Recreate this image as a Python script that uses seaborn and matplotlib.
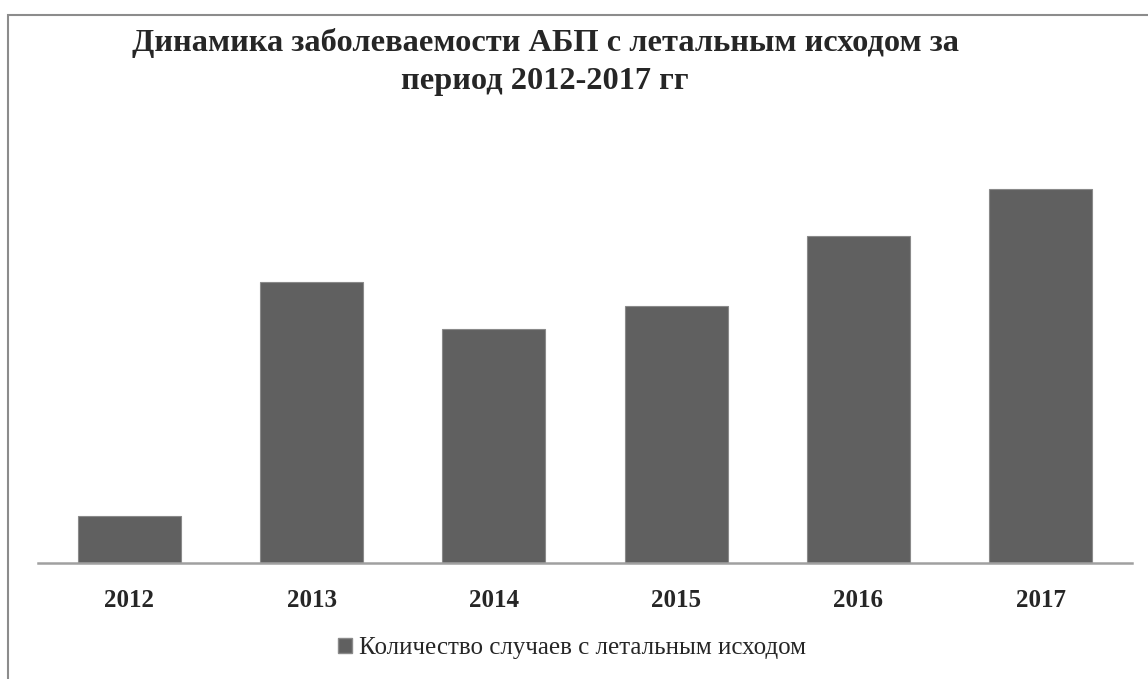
import matplotlib
matplotlib.use("Agg")
import matplotlib.pyplot as plt
import seaborn as sns
import pandas as pd
from matplotlib.patches import Rectangle

years = ["2012", "2013", "2014", "2015", "2016", "2017"]
cases = [2, 12, 10, 11, 14, 16]
series_name = "Количество случаев с летальным исходом"
title = "Динамика заболеваемости АБП с летальным исходом за\nпериод 2012-2017 гг"

df = pd.DataFrame({"Год": years, "Случаи": cases, "Ряд": series_name})

sns.set_theme(style="white")
plt.rcParams["font.family"] = ["Liberation Serif", "DejaVu Serif"]

fig = plt.figure(figsize=(11.48, 6.79), dpi=100)
W, H = 1148, 679

# outer chart frame
fig.patches.append(Rectangle((8 / W, -0.05), 1.2, 1 - 15 / H + 0.05,
                             transform=fig.transFigure, fill=False,
                             edgecolor="#8c8c8c", linewidth=1.5))

ax = fig.add_axes([38 / W, 1 - 563 / H, (1132 - 38) / W, (563 - 142) / H])
sns.barplot(data=df, x="Год", y="Случаи", hue="Ряд", palette=["#606060"],
            width=0.565, edgecolor="#8a8a8a", linewidth=0.8, ax=ax, legend=False)

ax.set_ylim(0, 18)
ax.set_xlim(-0.5, len(years) - 0.5)
ax.set_xlabel("")
ax.set_ylabel("")
ax.set_yticks([])
for s in ["top", "right", "left"]:
    ax.spines[s].set_visible(False)
ax.spines["bottom"].set_color("#a0a0a0")
ax.spines["bottom"].set_linewidth(1.8)
ax.tick_params(axis="x", length=0, pad=19)
for lab in ax.get_xticklabels():
    lab.set_fontsize(18)
    lab.set_fontweight("bold")

fig.text(545 / W, 1 - 62 / H, title, ha="center", va="center",
         fontsize=23.3, fontweight="bold", linespacing=1.4)

handle = Rectangle((0, 0), 1, 1, facecolor="#606060", edgecolor="#8a8a8a")
fig.legend([handle], [series_name], loc="center", bbox_to_anchor=(572 / W, 1 - 648 / H),
           frameon=False, fontsize=18, handlelength=0.55, handleheight=0.55,
           handletextpad=0.3)

fig.savefig("out.png", dpi=100, facecolor="white")
